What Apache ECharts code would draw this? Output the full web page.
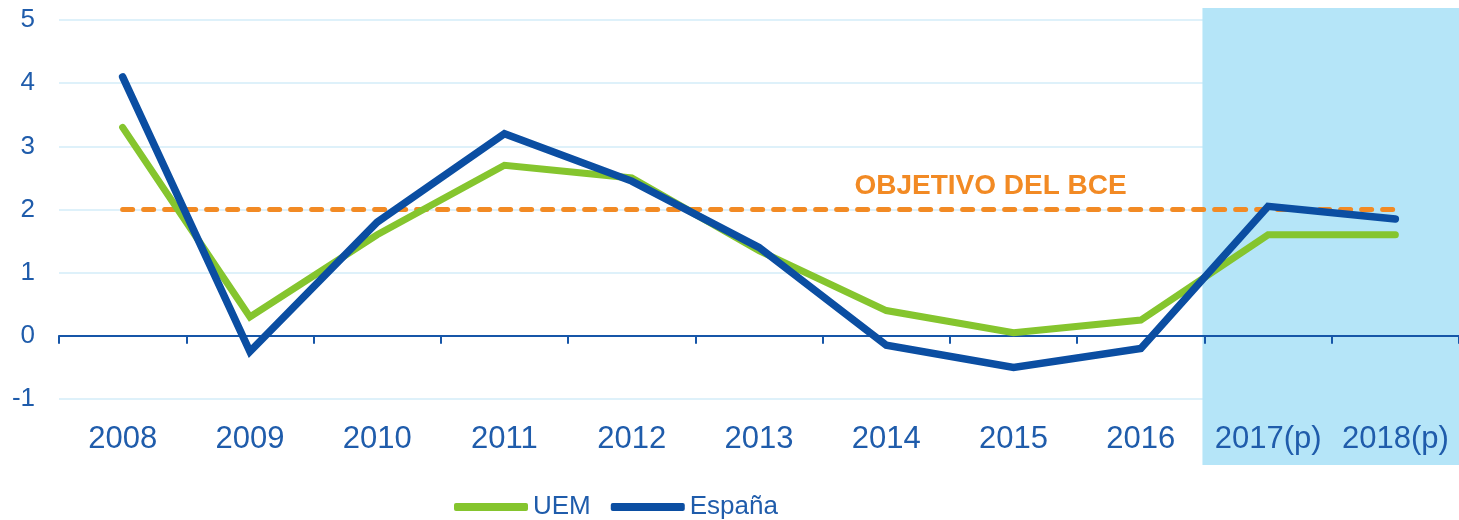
<!DOCTYPE html>
<html>
<head>
<meta charset="utf-8">
<script src="https://cdn.jsdelivr.net/npm/echarts@6.0.0/dist/echarts.min.js"></script>
<style>
  html, body { margin: 0; padding: 0; background: #fff; }
  #main { width: 1459px; height: 520px; }
</style>
</head>
<body>
<div id="main"></div>
<script>
// categories and values
var years = ['2008', '2009', '2010', '2011', '2012', '2013', '2014', '2015', '2016', '2017(p)', '2018(p)'];
var uem = [3.3, 0.3, 1.6, 2.7, 2.5, 1.35, 0.4, 0.05, 0.25, 1.6, 1.6];
var espana = [4.1, -0.25, 1.8, 3.2, 2.45, 1.4, -0.15, -0.5, -0.2, 2.05, 1.85];
var objetivo = 2;
var objetivoLabel = 'OBJETIVO DEL BCE';
var forecastFrom = '2017(p)';

var FONT = 'Liberation Sans, Arial, sans-serif';
var AXIS_BLUE = '#1f5cab';

var chart = echarts.init(document.getElementById('main'));

var option = {
  animation: false,
  backgroundColor: '#fff',
  grid: { left: 59, right: 0, top: 20, bottom: 121, containLabel: false },
  legend: {
    left: 449,
    top: 489,
    itemWidth: 74,
    itemHeight: 8,
    itemGap: 20,
    icon: 'roundRect',
    textStyle: { fontSize: 26, color: AXIS_BLUE, fontFamily: FONT },
    data: ['UEM', 'España']
  },
  xAxis: [
    {
      type: 'category',
      data: years,
      z: 3,
      axisLine: { onZero: true, lineStyle: { color: '#1656a8', width: 2 } },
      axisTick: { show: true, length: 8, lineStyle: { color: '#1656a8', width: 2 } },
      axisLabel: { show: false },
      splitLine: { show: false }
    },
    {
      type: 'category',
      data: years,
      position: 'bottom',
      z: 3,
      axisLine: { show: false, onZero: false },
      axisTick: { show: false },
      axisLabel: { fontSize: 31, color: AXIS_BLUE, fontFamily: FONT, margin: 25, interval: 0 },
      splitLine: { show: false }
    }
  ],
  yAxis: {
    type: 'value',
    min: -1,
    max: 5,
    interval: 1,
    axisLine: { show: false },
    axisTick: { show: false },
    splitLine: { lineStyle: { color: '#d3ecf9', width: 1.5 } },
    axisLabel: { fontSize: 26, color: AXIS_BLUE, fontFamily: FONT, margin: 24 }
  },
  series: [
    {
      name: 'Objetivo',
      type: 'line',
      z: 4,
      data: years.map(function () { return objetivo; }),
      symbol: 'none',
      silent: true,
      lineStyle: { color: '#f28a24', width: 5, type: [10, 11], cap: 'round' }
    },
    {
      name: 'UEM',
      type: 'line',
      z: 5,
      data: uem,
      symbol: 'none',
      itemStyle: { color: '#85c52e' },
      lineStyle: { color: '#85c52e', width: 7, cap: 'round', join: 'miter' }
    },
    {
      name: 'España',
      type: 'line',
      z: 6,
      data: espana,
      symbol: 'none',
      itemStyle: { color: '#0b4ea2' },
      lineStyle: { color: '#0b4ea2', width: 7.5, cap: 'round', join: 'miter' }
    }
  ]
};

chart.setOption(option);

// forecast band and target label, placed through the axes
var x0 = chart.convertToPixel({ xAxisIndex: 0 }, years[0]);
var x1 = chart.convertToPixel({ xAxisIndex: 0 }, years[1]);
var bandX = chart.convertToPixel({ xAxisIndex: 0 }, forecastFrom) - (x1 - x0) / 2 - 2;
var targetY = chart.convertToPixel({ yAxisIndex: 0 }, objetivo);
var labelX = chart.convertToPixel({ xAxisIndex: 0 }, '2015') - 23;

chart.setOption({
  graphic: [
    {
      type: 'rect',
      silent: true,
      z: 1,
      shape: { x: bandX, y: 8, width: 1459 - bandX, height: 457 },
      style: { fill: '#b5e5f8' }
    },
    {
      type: 'text',
      silent: true,
      z: 7,
      x: labelX,
      y: targetY - 9,
      style: {
        text: objetivoLabel,
        font: 'bold 28px ' + FONT,
        fill: '#f28a24',
        align: 'center',
        verticalAlign: 'bottom'
      }
    }
  ]
});
</script>
</body>
</html>
